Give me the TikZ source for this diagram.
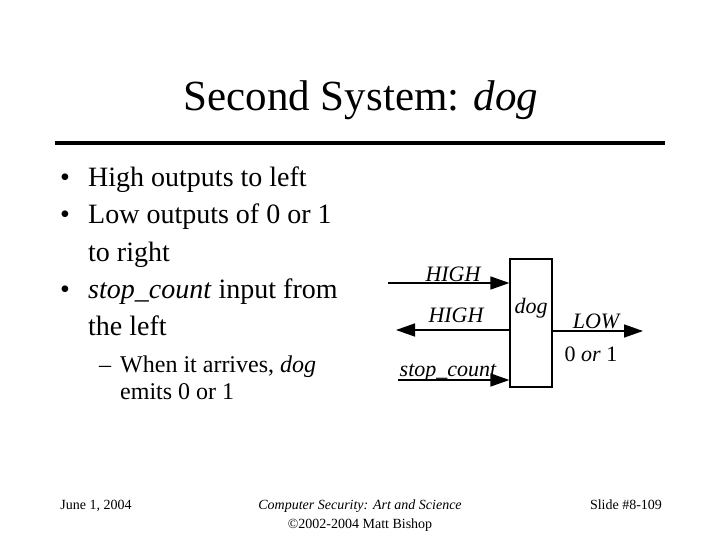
\documentclass[tikz,border=0pt]{standalone}
\usepackage{fontspec}
\setmainfont{Liberation Serif}
\usetikzlibrary{arrows.meta}
\tikzset{
  txt/.style={inner sep=0pt, anchor=base west},
  bul/.style={txt, font=\fontsize{28}{34}\selectfont},
  sub/.style={txt, font=\fontsize{24}{29}\selectfont},
  foot/.style={inner sep=0pt, anchor=base, font=\fontsize{14}{17}\selectfont},
  lab/.style={inner sep=0pt, anchor=base, font=\fontsize{22}{26}\selectfont\itshape},
  sig/.style={line width=1.5pt, -{Triangle[length=19pt,width=13pt]}},
  blk/.style={draw, line width=1.2pt, minimum width=42pt, minimum height=128pt, inner sep=0pt}
}
\begin{document}
\begin{tikzpicture}[x=1pt,y=-1pt]
\useasboundingbox (0,0) rectangle (720,540);
% title
\node[inner sep=0pt, anchor=base, font=\fontsize{43}{52}\selectfont] (title) at (361,111) {Second System: \textit{dog}};
\draw[line width=4pt] (55,143) -- (665,143);
% bullets
\node[bul] (b1) at (60,187) {•};
\node[bul] (t1) at (88,187) {High outputs to left};
\node[bul] (b2) at (60,224) {•};
\node[bul] (t2) at (88,224) {Low outputs of 0 or 1};
\node[bul] (t2b) at (88,261) {to right};
\node[bul] (b3) at (60,298) {•};
\node[bul] (t3) at (88,298) {\textit{stop\_count} input from};
\node[bul] (t3b) at (88,335) {the left};
\node[sub] (d1) at (99,372) {–};
\node[sub] (s1) at (120,372) {When it arrives, \textit{dog}};
\node[sub] (s1b) at (120,399) {emits 0 or 1};
% diagram
\node[blk] (dog) at (531,323) {};
\node[lab] (doglab) at (531,313) {dog};
\coordinate (h1) at (388,283);
\coordinate (h2) at (396,330);
\coordinate (sc) at (398,380);
\coordinate (lo) at (643,331);
\draw[sig] (h1) -- (h1 -| dog.west);
\draw[sig] (h2 -| dog.west) -- (h2);
\draw[sig] (sc) -- (sc -| dog.west);
\draw[sig] (lo -| dog.east) -- (lo);
\node[lab] (lh1) at (453,281) {HIGH};
\node[lab] (lh2) at (456,322) {HIGH};
\node[lab] (lsc) at (448,376) {stop\_count};
\node[lab] (llo) at (596,328) {LOW};
\node[lab, font=\fontsize{22}{26}\selectfont] (l01) at (591,361) {0 \textit{or} 1};
% footer
\node[foot] (f1) at (96,509) {June 1, 2004};
\node[foot] (f2) at (360,509) {\textit{Computer Security: Art and Science}};
\node[foot] (f3) at (360,528) {©2002-2004 Matt Bishop};
\node[foot] (f4) at (626,509) {Slide \#8-109};
\end{tikzpicture}
\end{document}
